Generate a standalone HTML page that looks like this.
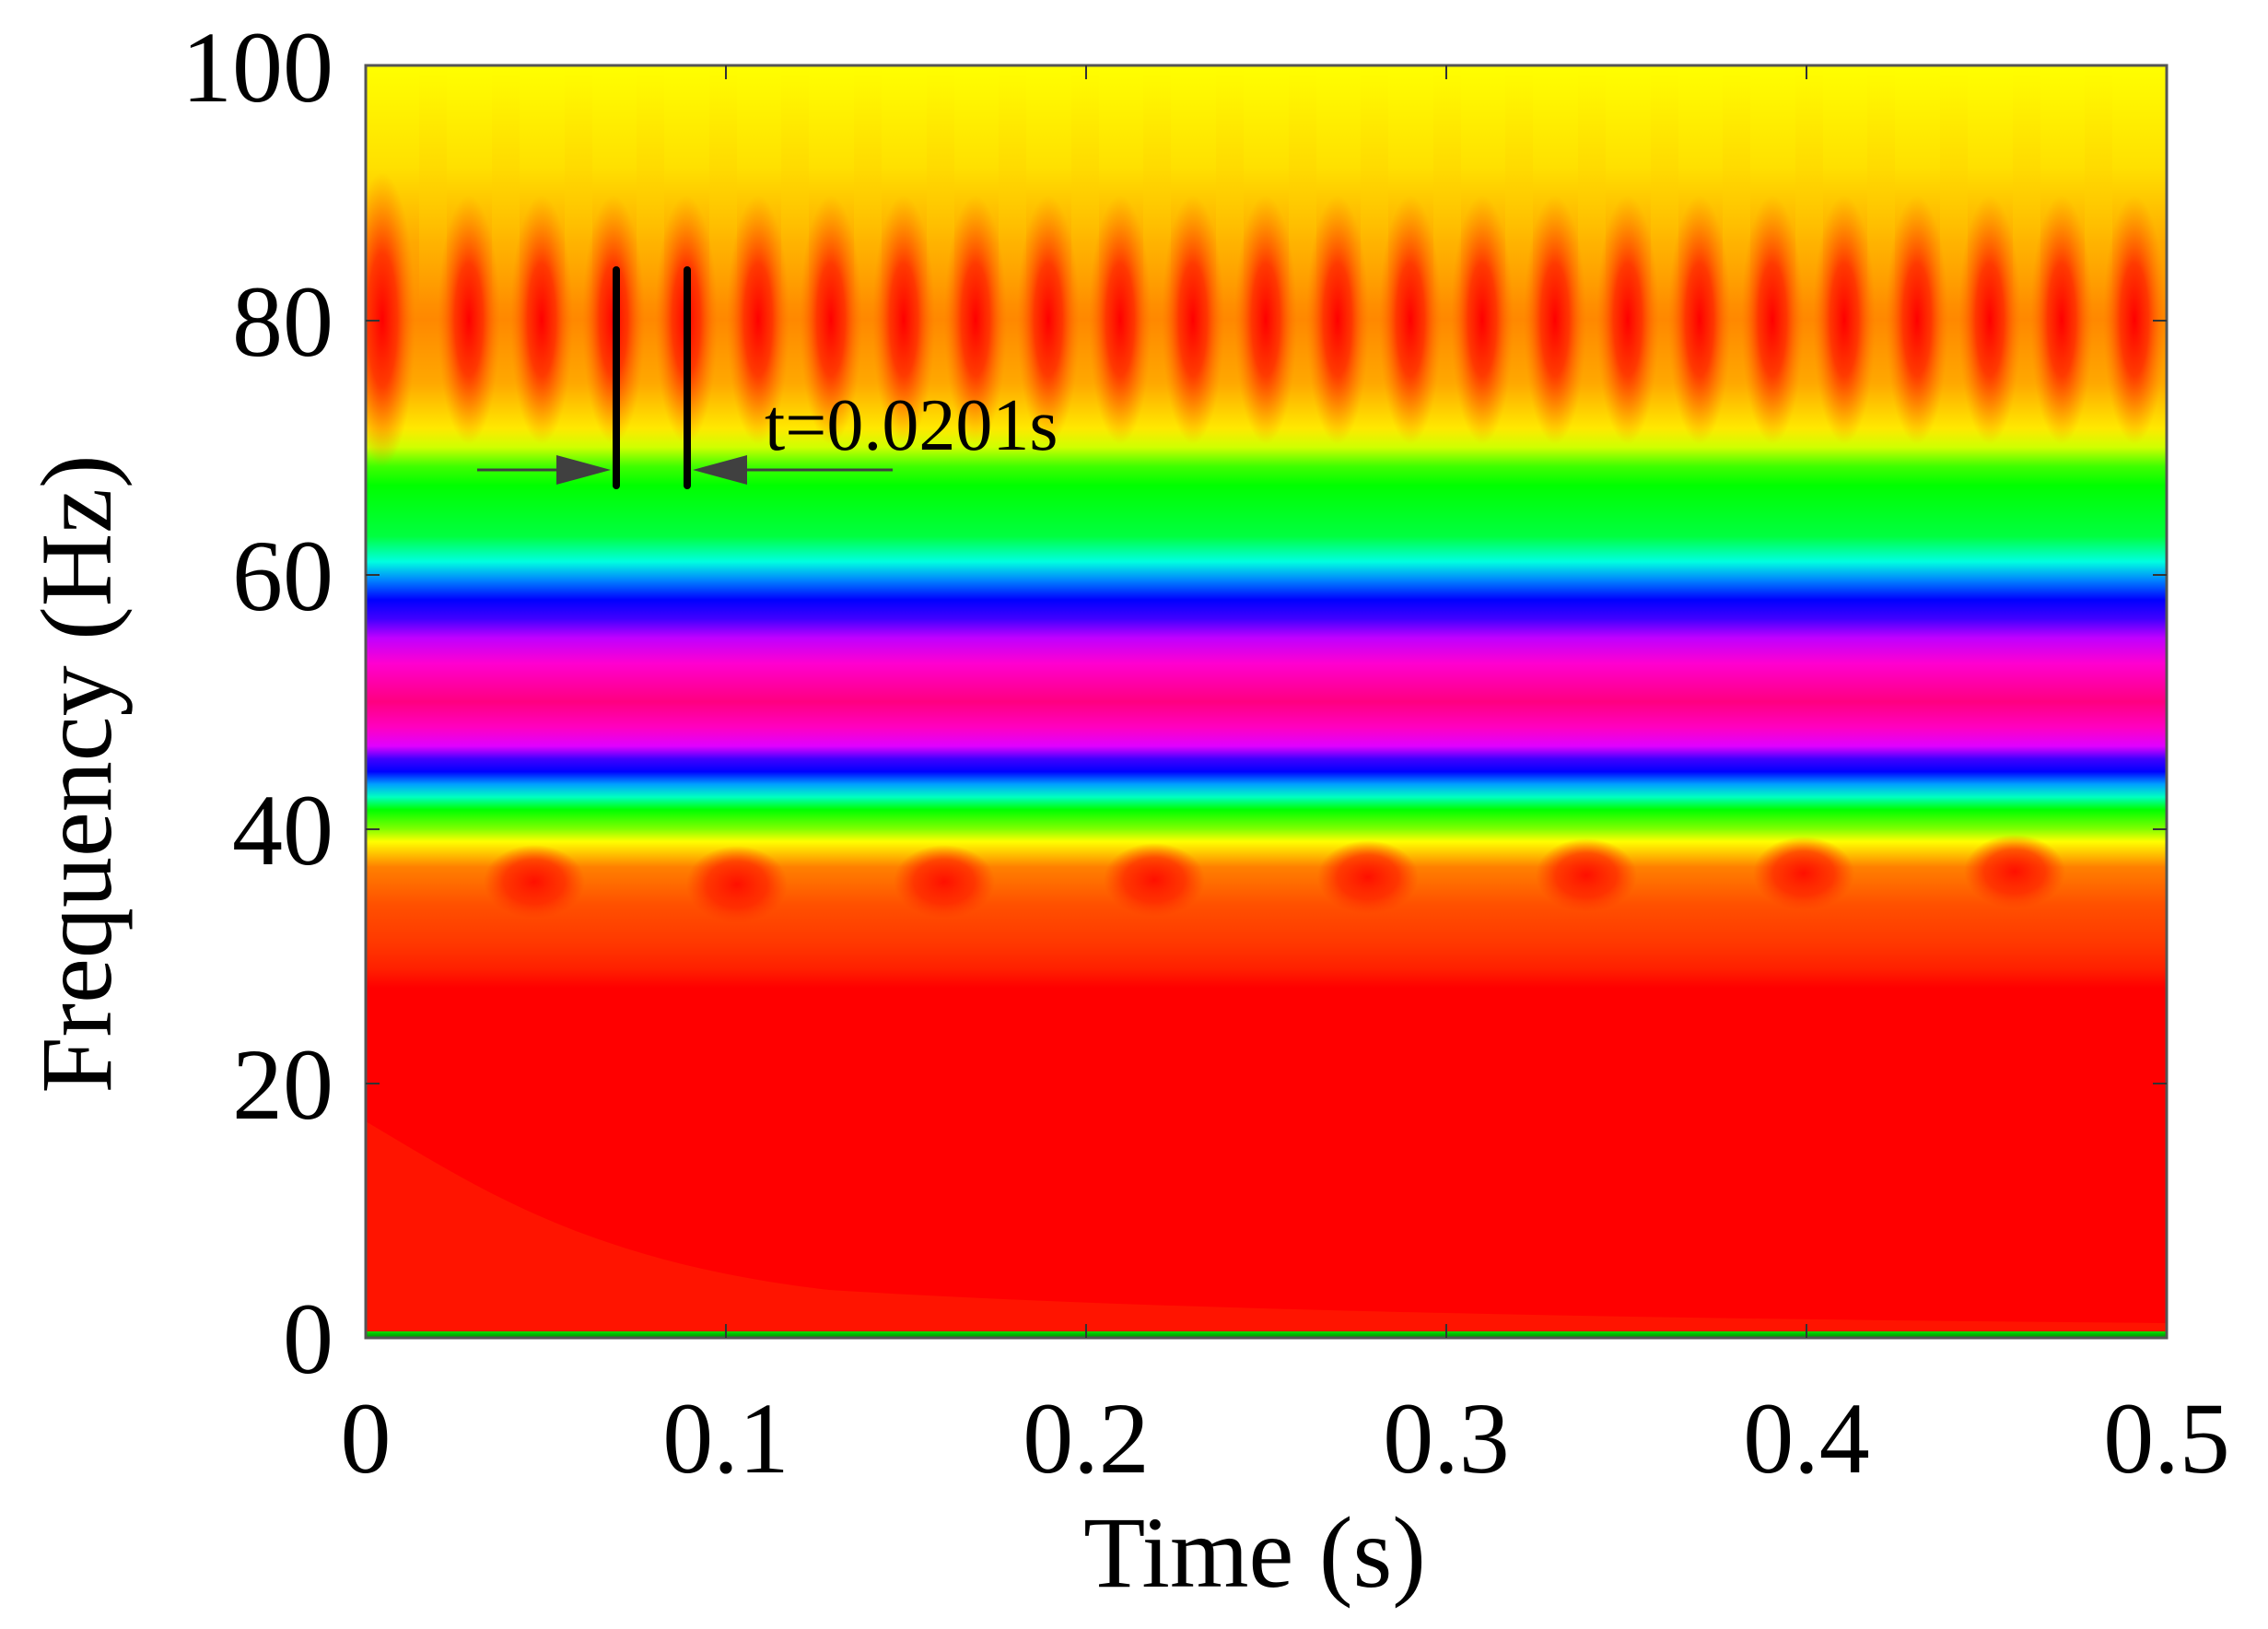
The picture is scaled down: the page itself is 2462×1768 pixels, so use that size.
<!DOCTYPE html>
<html><head><meta charset="utf-8"><style>
html,body{margin:0;padding:0;background:#fff;}
svg{display:block;}
text{font-family:"Liberation Serif",serif;fill:#000;}
</style></head><body>
<svg width="2462" height="1768" viewBox="0 0 2462 1768" xmlns="http://www.w3.org/2000/svg">
<defs>
<linearGradient id="bg" x1="0" y1="0" x2="0" y2="1">
<stop offset="0" stop-color="#ffff00"/>
<stop offset="0.08" stop-color="#ffe000"/>
<stop offset="0.14" stop-color="#ffa800"/>
<stop offset="0.20" stop-color="#ff8800"/>
<stop offset="0.25" stop-color="#ffa800"/>
<stop offset="0.285" stop-color="#ffe800"/>
<stop offset="0.30" stop-color="#d0ff00"/>
<stop offset="0.315" stop-color="#40ff00"/>
<stop offset="0.33" stop-color="#00ff00"/>
<stop offset="0.37" stop-color="#00ff40"/>
<stop offset="0.39" stop-color="#00ffe0"/>
<stop offset="0.405" stop-color="#0080ff"/>
<stop offset="0.42" stop-color="#0000ff"/>
<stop offset="0.435" stop-color="#4000ff"/>
<stop offset="0.45" stop-color="#c000ff"/>
<stop offset="0.47" stop-color="#ff00d0"/>
<stop offset="0.50" stop-color="#ff0080"/>
<stop offset="0.52" stop-color="#ff00c0"/>
<stop offset="0.535" stop-color="#e000ff"/>
<stop offset="0.545" stop-color="#4000ff"/>
<stop offset="0.555" stop-color="#0000ff"/>
<stop offset="0.565" stop-color="#00a0ff"/>
<stop offset="0.575" stop-color="#00ffc0"/>
<stop offset="0.585" stop-color="#00ff00"/>
<stop offset="0.60" stop-color="#80ff00"/>
<stop offset="0.61" stop-color="#ffff00"/>
<stop offset="0.62" stop-color="#ffc000"/>
<stop offset="0.63" stop-color="#ff8000"/>
<stop offset="0.66" stop-color="#ff5000"/>
<stop offset="0.69" stop-color="#ff3800"/>
<stop offset="0.71" stop-color="#ff2000"/>
<stop offset="0.725" stop-color="#ff0000"/>
<stop offset="0.99" stop-color="#ff0000"/>
<stop offset="0.992" stop-color="#ff8000"/>
<stop offset="0.995" stop-color="#00e000"/>
<stop offset="1" stop-color="#009000"/>
</linearGradient>
<radialGradient id="rb">
<stop offset="0" stop-color="#ff0000"/>
<stop offset="0.45" stop-color="#ff2800" stop-opacity="0.85"/>
<stop offset="1" stop-color="#ff7000" stop-opacity="0"/>
</radialGradient>
<radialGradient id="rb2">
<stop offset="0" stop-color="#ff1000"/>
<stop offset="0.6" stop-color="#ff2000" stop-opacity="0.7"/>
<stop offset="1" stop-color="#ff3000" stop-opacity="0"/>
</radialGradient>
<linearGradient id="ys" x1="0" y1="0" x2="0" y2="1">
<stop offset="0" stop-color="#ffff00" stop-opacity="0.9"/>
<stop offset="0.5" stop-color="#ffd000" stop-opacity="0.5"/>
<stop offset="1" stop-color="#ffd000" stop-opacity="0"/>
</linearGradient>
<clipPath id="pc"><rect x="397" y="71" width="1955" height="1381"/></clipPath>
</defs>
<g clip-path="url(#pc)">
<rect x="397" y="71" width="1955" height="1381" fill="url(#bg)"/>
<path d="M397 1217 C 520 1290, 640 1370, 900 1400 C 1300 1425, 1900 1432, 2352 1436 L2352 1445 L397 1445 Z" fill="#ff1400"/>
<g fill="url(#ys)">
<rect x="455" y="71" width="30" height="260"/><rect x="534" y="71" width="30" height="260"/><rect x="613" y="71" width="30" height="260"/><rect x="691" y="71" width="30" height="260"/><rect x="770" y="71" width="30" height="260"/><rect x="848" y="71" width="30" height="260"/><rect x="927" y="71" width="30" height="260"/><rect x="1006" y="71" width="30" height="260"/><rect x="1084" y="71" width="30" height="260"/><rect x="1163" y="71" width="30" height="260"/><rect x="1241" y="71" width="30" height="260"/><rect x="1320" y="71" width="30" height="260"/><rect x="1399" y="71" width="30" height="260"/><rect x="1477" y="71" width="30" height="260"/><rect x="1556" y="71" width="30" height="260"/><rect x="1634" y="71" width="30" height="260"/><rect x="1713" y="71" width="30" height="260"/><rect x="1792" y="71" width="30" height="260"/><rect x="1870" y="71" width="30" height="260"/><rect x="1949" y="71" width="30" height="260"/><rect x="2027" y="71" width="30" height="260"/><rect x="2106" y="71" width="30" height="260"/><rect x="2185" y="71" width="30" height="260"/><rect x="2263" y="71" width="30" height="260"/>
</g>
<g fill="url(#rb)">
<ellipse cx="415" cy="347" rx="36" ry="160"/>
<ellipse cx="509" cy="347" rx="34" ry="135"/><ellipse cx="588" cy="347" rx="34" ry="135"/><ellipse cx="666" cy="347" rx="34" ry="135"/><ellipse cx="745" cy="347" rx="34" ry="135"/><ellipse cx="823" cy="347" rx="34" ry="135"/><ellipse cx="902" cy="347" rx="34" ry="135"/><ellipse cx="981" cy="347" rx="34" ry="135"/><ellipse cx="1059" cy="347" rx="34" ry="135"/><ellipse cx="1138" cy="347" rx="34" ry="135"/><ellipse cx="1216" cy="347" rx="34" ry="135"/><ellipse cx="1295" cy="347" rx="34" ry="135"/><ellipse cx="1374" cy="347" rx="34" ry="135"/><ellipse cx="1452" cy="347" rx="34" ry="135"/><ellipse cx="1531" cy="347" rx="34" ry="135"/><ellipse cx="1609" cy="347" rx="34" ry="135"/><ellipse cx="1688" cy="347" rx="34" ry="135"/><ellipse cx="1767" cy="347" rx="34" ry="135"/><ellipse cx="1845" cy="347" rx="34" ry="135"/><ellipse cx="1924" cy="347" rx="34" ry="135"/><ellipse cx="2002" cy="347" rx="34" ry="135"/><ellipse cx="2081" cy="347" rx="34" ry="135"/><ellipse cx="2160" cy="347" rx="34" ry="135"/><ellipse cx="2238" cy="347" rx="34" ry="135"/><ellipse cx="2317" cy="347" rx="34" ry="135"/>
</g>
<g fill="url(#rb2)">
<ellipse cx="580" cy="957" rx="55" ry="40"/><ellipse cx="800" cy="960" rx="55" ry="42"/><ellipse cx="1025" cy="957" rx="55" ry="40"/><ellipse cx="1253" cy="955" rx="55" ry="40"/><ellipse cx="1485" cy="952" rx="55" ry="40"/><ellipse cx="1722" cy="950" rx="55" ry="40"/><ellipse cx="1958" cy="948" rx="55" ry="40"/><ellipse cx="2187" cy="946" rx="55" ry="40"/>
</g>
</g>
<rect x="397" y="71" width="1955" height="1381" fill="none" stroke="#555" stroke-width="3"/>
<g stroke="#333" stroke-width="2">
<line x1="397" y1="348" x2="412" y2="348"/><line x1="397" y1="624" x2="412" y2="624"/><line x1="397" y1="900" x2="412" y2="900"/><line x1="397" y1="1176" x2="412" y2="1176"/>
<line x1="2352" y1="348" x2="2337" y2="348"/><line x1="2352" y1="624" x2="2337" y2="624"/><line x1="2352" y1="900" x2="2337" y2="900"/><line x1="2352" y1="1176" x2="2337" y2="1176"/>
<line x1="788" y1="1452" x2="788" y2="1437"/><line x1="1179" y1="1452" x2="1179" y2="1437"/><line x1="1570" y1="1452" x2="1570" y2="1437"/><line x1="1961" y1="1452" x2="1961" y2="1437"/>
<line x1="788" y1="71" x2="788" y2="86"/><line x1="1179" y1="71" x2="1179" y2="86"/><line x1="1570" y1="71" x2="1570" y2="86"/><line x1="1961" y1="71" x2="1961" y2="86"/>
</g>
<g stroke="#000" stroke-width="8" stroke-linecap="round">
<line x1="669" y1="293" x2="669" y2="527"/>
<line x1="746" y1="293" x2="746" y2="527"/>
</g>
<g stroke="#404040" stroke-width="3">
<line x1="518" y1="510" x2="610" y2="510"/>
<line x1="800" y1="510" x2="969" y2="510"/>
</g>
<polygon points="604,494 663,510 604,526" fill="#404040"/>
<polygon points="811,494 752,510 811,526" fill="#404040"/>
<text x="830" y="488" font-size="80">t=0.0201s</text>
<g font-size="110" text-anchor="end">
<text x="362" y="110">100</text>
<text x="362" y="386">80</text>
<text x="362" y="662">60</text>
<text x="362" y="938">40</text>
<text x="362" y="1214">20</text>
<text x="362" y="1490">0</text>
</g>
<g font-size="110" text-anchor="middle">
<text x="397" y="1598">0</text>
<text x="788" y="1598">0.1</text>
<text x="1179" y="1598">0.2</text>
<text x="1570" y="1598">0.3</text>
<text x="1961" y="1598">0.4</text>
<text x="2352" y="1598">0.5</text>
</g>
<text x="1362" y="1722" font-size="110" text-anchor="middle">Time (s)</text>
<text transform="translate(120,840) rotate(-90)" font-size="110" text-anchor="middle">Frequency (Hz)</text>
</svg>
</body></html>
